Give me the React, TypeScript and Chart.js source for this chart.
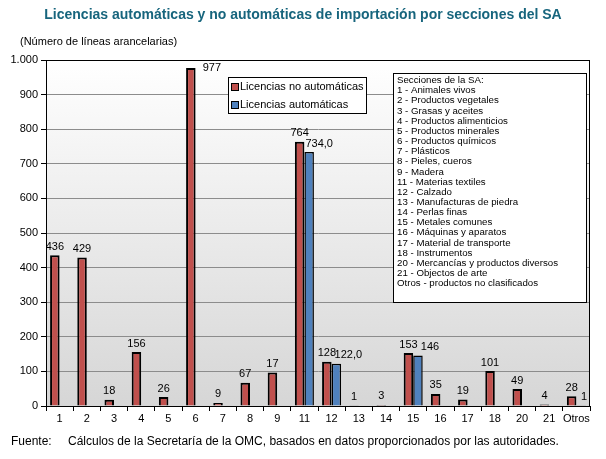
import React, { useEffect, useRef } from 'react'
import { Chart, registerables, Plugin } from 'chart.js'

Chart.register(...registerables)

const FONT = "'Liberation Sans', Arial, sans-serif"

const title = 'Licencias automáticas y no automáticas de importación por secciones del SA'
const subtitle = '(Número de líneas arancelarias)'
const sourceLabel = 'Fuente:'
const sourceText = 'Cálculos de la Secretaría de la OMC, basados en datos proporcionados por las autoridades.'

const categories = ['1', '2', '3', '4', '5', '6', '7', '8', '9', '11', '12', '13', '14', '15', '16', '17', '18', '20', '21', 'Otros']

const noAutoValues = [436, 429, 18, 156, 26, 977, 9, 67, 97, 764, 128, 1, 3, 153, 35, 19, 101, 49, 4, 28]
const noAutoLabels = ['436', '429', '18', '156', '26', '977', '9', '67', '17', '764', '128', '1', '3', '153', '35', '19', '101', '49', '4', '28']

const autoValues = [null, null, null, null, null, null, null, null, null, 734, 122, null, null, 146, null, null, null, null, null, 1]
const autoLabels = ['', '', '', '', '', '', '', '', '', '734,0', '122,0', '', '', '146', '', '', '', '', '', '1']

const sectionLines = [
  'Secciones de la SA:',
  '1 - Animales vivos',
  '2 - Productos vegetales',
  '3 - Grasas y aceites',
  '4 - Productos alimenticios',
  '5 - Productos minerales',
  '6 - Productos químicos',
  '7 - Plásticos',
  '8 - Pieles, cueros',
  '9 - Madera',
  '11 - Materias textiles',
  '12 - Calzado',
  '13 - Manufacturas de piedra',
  '14 - Perlas finas',
  '15 - Metales comunes',
  '16 - Máquinas y aparatos',
  '17 - Material de transporte',
  '18 - Instrumentos',
  '20 - Mercancías y productos diversos',
  '21 - Objectos de arte',
  'Otros - productos no clasificados',
]

// label nudges where the original moved labels off the bar top
const labelShift: Record<string, { dx: number; dy: number }> = {
  '0-5': { dx: 21, dy: 9 },
  '1-9': { dx: 10, dy: 0 },
  '1-10': { dx: 12, dy: 0 },
  '1-13': { dx: 12, dy: 0 },
  '1-19': { dx: 3, dy: 0 },
}

const decor: Plugin<'bar'> = {
  id: 'decor',
  beforeDraw(chart) {
    const { ctx, chartArea: a } = chart
    ctx.save()
    ctx.fillStyle = '#ffffff'
    ctx.fillRect(0, 0, chart.width, chart.height)
    const g = ctx.createLinearGradient(0, a.top, 0, a.bottom)
    g.addColorStop(0, '#ffffff')
    g.addColorStop(1, '#d6d6d6')
    ctx.fillStyle = g
    ctx.fillRect(a.left, a.top, a.right - a.left, a.bottom - a.top)

    ctx.textBaseline = 'middle'
    ctx.fillStyle = '#17657d'
    ctx.font = `bold 14px ${FONT}`
    ctx.textAlign = 'center'
    ctx.fillText(title, 303, 15)

    ctx.fillStyle = '#000'
    ctx.textAlign = 'left'
    ctx.font = `11px ${FONT}`
    ctx.fillText(subtitle, 20, 42)

    ctx.font = `12px ${FONT}`
    ctx.fillText(sourceLabel, 11, 442)
    ctx.fillText(sourceText, 68, 442)
    ctx.restore()
  },
  beforeDatasetsDraw(chart) {
    const { ctx, chartArea: a } = chart
    ctx.save()
    ctx.strokeStyle = '#000'
    ctx.lineWidth = 1
    ctx.strokeRect(a.left + 0.5, a.top + 0.5, a.right - a.left - 1, a.bottom - a.top)
    ctx.restore()
  },
  afterDatasetsDraw(chart) {
    const { ctx } = chart
    ctx.save()
    // data labels
    ctx.font = `11px ${FONT}`
    ctx.fillStyle = '#000'
    ctx.textAlign = 'center'
    ctx.textBaseline = 'bottom'
    const texts = [noAutoLabels, autoLabels]
    chart.data.datasets.forEach((ds, d) => {
      const meta = chart.getDatasetMeta(d)
      meta.data.forEach((el, i) => {
        const t = texts[d][i]
        if (!t || ds.data[i] == null) return
        const s = labelShift[`${d}-${i}`] || { dx: 0, dy: 0 }
        ctx.fillText(t, el.x + s.dx, el.y - 3 + s.dy)
      })
    })

    // series legend
    ctx.fillStyle = '#fff'
    ctx.fillRect(228, 77, 138, 36)
    ctx.strokeStyle = '#000'
    ctx.lineWidth = 1
    ctx.strokeRect(228.5, 77.5, 138, 36)
    ctx.font = `11px ${FONT}`
    ctx.textAlign = 'left'
    ctx.textBaseline = 'middle'
    chart.data.datasets.forEach((ds, d) => {
      const y = 87 + d * 18
      ctx.fillStyle = ds.backgroundColor as string
      ctx.fillRect(231, y - 4, 8, 8)
      ctx.strokeStyle = '#000'
      ctx.strokeRect(231.5, y - 3.5, 7, 7)
      ctx.fillStyle = '#000'
      ctx.fillText(ds.label || '', 240, y)
    })

    // sections legend
    ctx.fillStyle = '#fff'
    ctx.fillRect(393, 73, 193, 229)
    ctx.strokeRect(393.5, 73.5, 193, 229)
    ctx.fillStyle = '#000'
    ctx.font = `9.7px ${FONT}`
    sectionLines.forEach((line, i) => {
      ctx.fillText(line, 397, 80.5 + i * 10.15)
    })
    ctx.restore()
  },
}

const App: React.FC = () => {
  const canvasRef = useRef<HTMLCanvasElement | null>(null)

  useEffect(() => {
    if (!canvasRef.current) return
    const chart = new Chart(canvasRef.current, {
      type: 'bar',
      data: {
        labels: categories,
        datasets: [
          {
            label: 'Licencias no automáticas',
            data: noAutoValues,
            backgroundColor: '#c0504d',
            borderColor: '#000',
            borderWidth: 2,
          },
          {
            label: 'Licencias automáticas',
            data: autoValues,
            backgroundColor: '#4f81bd',
            borderColor: '#000',
            borderWidth: 1.5,
          },
        ],
      },
      options: {
        responsive: true,
        maintainAspectRatio: false,
        animation: false,
        layout: { padding: { top: 60, right: 16, bottom: 29, left: 0 } },
        datasets: { bar: { categoryPercentage: 0.7, barPercentage: 1 } },
        plugins: {
          legend: { display: false },
          title: { display: false },
          tooltip: { enabled: false },
        },
        scales: {
          x: {
            grid: { display: true, drawOnChartArea: false, tickLength: 5, color: '#000', offset: true },
            border: { display: true, color: '#000' },
            ticks: {
              color: '#000',
              font: { family: FONT, size: 11 },
              padding: 1,
              maxRotation: 0,
              minRotation: 0,
              autoSkip: false,
            },
            afterFit: (s) => {
              s.height = 24
            },
          },
          y: {
            min: 0,
            max: 1000,
            grid: { color: '#8c8c8c', tickLength: 5, tickColor: '#000' },
            border: { display: true, color: '#000' },
            ticks: {
              stepSize: 100,
              color: '#000',
              font: { family: FONT, size: 11 },
              padding: 3,
              callback: (v) => {
                const n = Number(v)
                return n >= 1000 ? `${Math.floor(n / 1000)}.${String(n % 1000).padStart(3, '0')}` : String(n)
              },
            },
            afterFit: (s) => {
              s.width = 46
            },
          },
        },
      },
      plugins: [decor],
    })
    return () => chart.destroy()
  }, [])

  return (
    <div style={{ position: 'absolute', left: 0, top: 0, width: 606, height: 459 }}>
      <canvas ref={canvasRef} />
    </div>
  )
}

export default App
